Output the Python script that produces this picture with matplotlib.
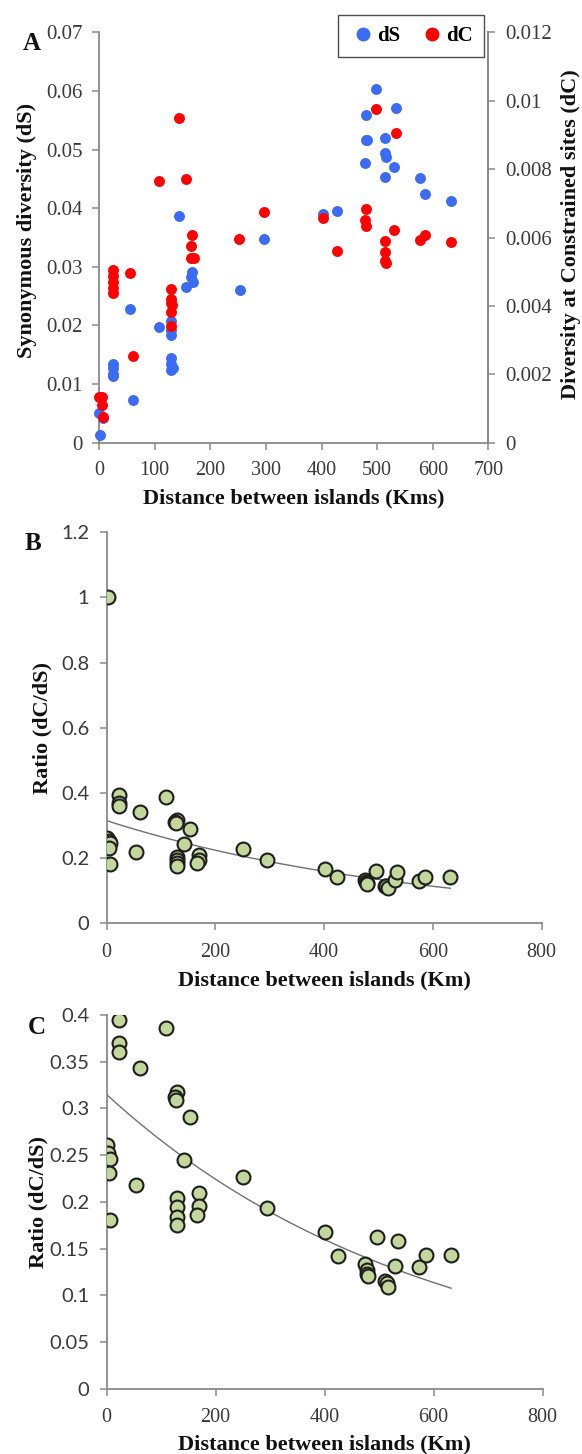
import matplotlib
matplotlib.use("Agg")
import matplotlib.pyplot as plt
from matplotlib.lines import Line2D
from matplotlib.ticker import FuncFormatter
import numpy as np

# ---------------- data ----------------
# Panel A : synonymous diversity (dS, left axis)
dS_km = [498, 480.5, 534.5, 479, 481.5, 514.7, 514.7, 516.5, 478, 530, 513.5,
         576.5, 585, 633, 402.5, 427.7,
         144, 295.7, 252.7, 155.8, 167, 166, 169, 107.8, 129, 129, 129,
         129, 129, 129, 133, 55.6, 61, 25.6, 25.6, 25.6, 25.6, 0, 7.5, 2]
dS_val = [0.0603, 0.0559, 0.0572, 0.0517, 0.0516, 0.0520, 0.0494, 0.0488, 0.0477,
          0.0471, 0.0454, 0.0452, 0.0424, 0.0412, 0.0391, 0.0395,
          0.0387, 0.0348, 0.0261, 0.0266, 0.0291, 0.0283, 0.0275, 0.0198, 0.0207,
          0.0192, 0.0184, 0.0144, 0.0134, 0.0124, 0.0127, 0.0228, 0.0073, 0.0135,
          0.0127, 0.0118, 0.0114, 0.0050, 0.0042, 0.0013]

# Panel A : diversity at constrained sites (dC, right axis)
dC_km = [498, 534.5, 480.5, 402.5, 478.7, 480.5, 530, 576.5, 586, 633,
         427.7, 514.7, 514.7, 514.7, 516,
         252, 295.7, 156, 144, 108.5, 166.8, 166, 165, 170, 55.7, 61,
         25.6, 25.6, 25.6, 25.6, 25.6,
         129, 129, 129, 131, 129, 129,
         0, 5, 5, 8]
dC_val = [0.00975, 0.00905, 0.00685, 0.00656, 0.00651, 0.00634, 0.00622, 0.00593,
          0.00607, 0.00588,
          0.00560, 0.00590, 0.00557, 0.00533, 0.00527,
          0.00595, 0.00675, 0.00771, 0.00949, 0.00766, 0.00607, 0.00574, 0.00540,
          0.00540, 0.00495, 0.00254,
          0.00506, 0.00489, 0.00471, 0.00454, 0.00437,
          0.00449, 0.00419, 0.00408, 0.00403, 0.00383, 0.00341,
          0.00134, 0.00134, 0.00110, 0.00076]

# Panels B and C : ratio dC/dS
ratio_km = [3, 0.7, 3.5, 6.8, 4.2, 6.2, 22.5, 23, 23, 54.5, 60.6, 108.3, 129.5,
            126, 127.4, 130, 130, 130, 130, 142.3, 153, 169, 169, 165.4, 250.5,
            294.8, 401, 424, 475, 477, 478.6, 479, 495.6, 511, 514, 517, 529.7,
            534.4, 573.8, 586, 631.7]
ratio_val = [1.0, 0.261, 0.252, 0.246, 0.2306, 0.1806, 0.3948, 0.3698, 0.360,
             0.218, 0.343, 0.3865, 0.3173, 0.312, 0.309, 0.2038, 0.1949, 0.1842,
             0.1753, 0.2449, 0.2906, 0.209, 0.1956, 0.186, 0.227, 0.193, 0.168,
             0.142, 0.1335, 0.127, 0.1228, 0.121, 0.162, 0.1156, 0.1135, 0.1086,
             0.1314, 0.1585, 0.13, 0.1431, 0.1431]

# exponential trend line: y = a * exp(-b * x)
trend_a = 0.315
trend_b = 0.0017
trend_range = [0, 632]

A_xticks = [0, 100, 200, 300, 400, 500, 600, 700]
A_left_ticks = [0, 0.01, 0.02, 0.03, 0.04, 0.05, 0.06, 0.07]
A_right_ticks = [0, 0.002, 0.004, 0.006, 0.008, 0.01, 0.012]
B_xticks = [0, 200, 400, 600, 800]
B_yticks = [0, 0.2, 0.4, 0.6, 0.8, 1.0, 1.2]
C_yticks = [0, 0.05, 0.1, 0.15, 0.2, 0.25, 0.3, 0.35, 0.4]

# ---------------- figure ----------------
W, H = 582, 1454
fig = plt.figure(figsize=(W / 100, H / 100), dpi=100)


def rect(l, t, r, b):
    return [l / W, 1 - b / H, (r - l) / W, (b - t) / H]


SERIF = ['Liberation Serif', 'DejaVu Serif']
SANS = ['Lato', 'DejaVu Sans']
AXC = '#8a8a8a'
TXT = '#3a3a3a'
LAB = '#111111'
fmt = FuncFormatter(lambda v, p: f'{v:g}')


def style_axes(ax, sides):
    for s in ['top', 'right', 'left', 'bottom']:
        ax.spines[s].set_visible(s in sides)
        ax.spines[s].set_color(AXC)
        ax.spines[s].set_linewidth(1.3)
    ax.tick_params(direction='out', length=5, width=1.1, color=AXC,
                   labelcolor=TXT)


def set_tick_fonts(labels, family, size):
    for lab in labels:
        lab.set_family(family)
        lab.set_size(size)


# ---- Panel A ----
axA = fig.add_axes(rect(99, 32.5, 488.5, 442.7))
axA.scatter(dS_km, dS_val, s=62, color='#3b6cf3', linewidths=0, zorder=3,
            clip_on=False)
axA.set_xlim(0, 700)
axA.set_ylim(0, 0.07)
axA.set_xticks(A_xticks)
axA.set_yticks(A_left_ticks)
axA.xaxis.set_major_formatter(fmt)
axA.yaxis.set_major_formatter(fmt)
style_axes(axA, ['left', 'bottom', 'right'])
axA.tick_params(axis='x', pad=8)
axA.tick_params(axis='y', pad=7)
set_tick_fonts(axA.get_xticklabels(), SERIF, 14.5)
set_tick_fonts(axA.get_yticklabels(), SERIF, 15)

axA2 = axA.twinx()
axA2.scatter(dC_km, dC_val, s=62, color='#ff0000', linewidths=0, zorder=3,
             clip_on=False)
axA2.set_ylim(0, 0.012)
axA2.set_yticks(A_right_ticks)
axA2.yaxis.set_major_formatter(fmt)
style_axes(axA2, ['right'])
axA2.tick_params(axis='y', pad=7)
set_tick_fonts(axA2.get_yticklabels(), SERIF, 15)

handles = [Line2D([], [], marker='o', ls='', color='#3b6cf3', markersize=9),
           Line2D([], [], marker='o', ls='', color='#ff0000', markersize=9)]
leg = fig.legend(handles, ['dS', 'dC'], ncol=2, loc='center',
                 bbox_to_anchor=((340 + 482) / 2 / W, 1 - 36 / H),
                 frameon=True, fancybox=False, edgecolor='#202020',
                 handletextpad=0.0, columnspacing=0.9, borderpad=0.55,
                 handlelength=1.3, borderaxespad=0,
                 prop={'family': SERIF, 'weight': 'bold', 'size': 15})
leg.get_frame().set_linewidth(1.0)

fig.text(32 / W, 1 - 43 / H, 'A', family=SERIF, weight='bold', size=18,
         ha='center', va='center', color=LAB)
fig.text(27 / W, 1 - 230 / H, 'Synonymous diversity (dS)', family=SERIF,
         weight='bold', size=16, rotation=90, ha='center', va='center',
         color=LAB)
fig.text(571 / W, 1 - 234 / H, 'Diversity at Constrained sites (dC)',
         family=SERIF, weight='bold', size=16, rotation=90, ha='center',
         va='center', color=LAB)
fig.text(294 / W, 1 - 498 / H, 'Distance between islands (Kms)',
         family=SERIF, weight='bold', size=16, ha='center', va='center',
         color=LAB)


def ratio_panel(box, yticks, ylim, letter, letter_xy, ylab_x, xlab_y):
    ax = fig.add_axes(rect(*box))
    xs = np.linspace(trend_range[0], trend_range[1], 200)
    ax.plot(xs, trend_a * np.exp(-trend_b * xs), color='#707070', lw=1.0,
            zorder=2)
    ax.scatter(ratio_km, ratio_val, s=100, facecolor='#c3d69b',
               edgecolor='#1e1e1e', linewidths=1.5, zorder=3)
    ax.set_xlim(0, 800)
    ax.set_ylim(*ylim)
    ax.set_xticks(B_xticks)
    ax.set_yticks(yticks)
    ax.xaxis.set_major_formatter(fmt)
    ax.yaxis.set_major_formatter(fmt)
    style_axes(ax, ['left', 'bottom'])
    ax.tick_params(axis='x', pad=9)
    ax.tick_params(axis='y', pad=7.5)
    set_tick_fonts(ax.get_xticklabels(), SERIF, 14.5)
    set_tick_fonts(ax.get_yticklabels(), SANS, 14.5)
    fig.text(letter_xy[0] / W, 1 - letter_xy[1] / H, letter, family=SERIF,
             weight='bold', size=18, ha='center', va='center', color=LAB)
    fig.text(ylab_x / W, 1 - (box[1] + box[3]) / 2 / H, 'Ratio (dC/dS)',
             family=SERIF, weight='bold', size=16, rotation=90, ha='center',
             va='center', color=LAB)
    fig.text((box[0] + box[2]) / 2 / W, 1 - xlab_y / H,
             'Distance between islands (Km)', family=SERIF, weight='bold',
             size=16, ha='center', va='center', color=LAB)
    return ax


axB = ratio_panel((106.6, 532.3, 541.7, 923.3), B_yticks, (0, 1.2), 'B',
                  (33, 544), 42, 980)
axC = ratio_panel((106.5, 1015, 542.7, 1388.7), C_yticks, (0, 0.4), 'C',
                  (37, 1027), 38, 1444)

fig.savefig('out.png', dpi=100)
